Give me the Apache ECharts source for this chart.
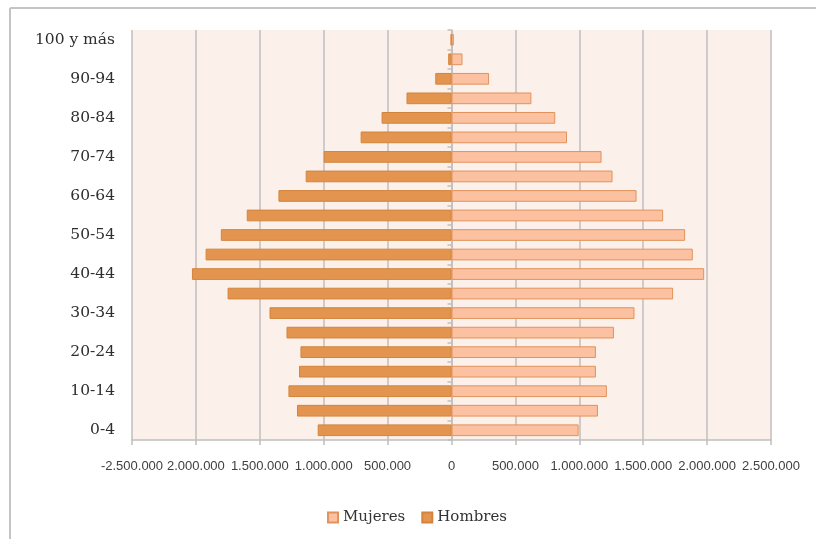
<!DOCTYPE html>
<html>
<head>
<meta charset="utf-8">
<script src="https://cdn.jsdelivr.net/npm/echarts@6/dist/echarts.min.js"></script>
<style>html,body{margin:0;padding:0;background:#fff;}#c{width:816px;height:539px;}</style>
</head>
<body>
<div id="c"></div>
<script>
const categories = ['0-4','5-9','10-14','15-19','20-24','25-29','30-34','35-39','40-44','45-49','50-54','55-59','60-64','65-69','70-74','75-79','80-84','85-89','90-94','95-99','100 y más'];
const mujeres = [995000,1146000,1216000,1130000,1130000,1271000,1432000,1734000,1977000,1888000,1828000,1656000,1448000,1260000,1174000,904000,812000,625000,294000,86000,18000];
const hombres = [1047000,1209000,1276000,1193000,1182000,1291000,1424000,1752000,2031000,1924000,1805000,1602000,1354000,1141000,1000000,711000,547000,352000,127000,26000,6000];
const tickValues = [-2500000,-2000000,-1500000,-1000000,-500000,0,500000,1000000,1500000,2000000,2500000];
const tickLabels = ['-2.500.000','2.000.000','1.500.000','1.000.000','500.000','0','500.000','1.000.000','1.500.000','2.000.000','2.500.000'];

const chart = echarts.init(document.getElementById('c'), null, {renderer: 'canvas'});
const grey = '#BFBFBF';
chart.setOption({
  animation: false,
  graphic: [
    {type: 'line', shape: {x1: 10, y1: 8, x2: 816, y2: 8}, style: {stroke: '#C4C4C4', lineWidth: 2}},
    {type: 'line', shape: {x1: 10, y1: 8, x2: 10, y2: 539}, style: {stroke: '#C4C4C4', lineWidth: 2}}
  ],
  grid: {left: 132, right: 45, top: 30, bottom: 99, show: true, backgroundColor: '#FCF0EB', borderWidth: 0},
  legend: {
    data: ['Mujeres', 'Hombres'],
    left: 322, top: 505,
    icon: 'rect', itemWidth: 10, itemHeight: 10, itemGap: 16,
    textStyle: {fontFamily: 'DejaVu Serif', fontSize: 15, color: '#333333'}
  },
  xAxis: {
    type: 'value', min: -2500000, max: 2500000, interval: 500000,
    axisLine: {show: true, lineStyle: {color: grey, width: 1.5}},
    axisTick: {show: true, length: 5, lineStyle: {color: grey, width: 1.5}},
    splitLine: {show: true, lineStyle: {color: grey, width: 1.5}},
    axisLabel: {
      margin: 20, color: '#404040', fontFamily: 'Liberation Sans', fontSize: 13,
      showMinLabel: true, showMaxLabel: true, hideOverlap: false,
      formatter: function (v) { const i = tickValues.indexOf(v); return i >= 0 ? tickLabels[i] : ''; }
    }
  },
  yAxis: [
    {
      type: 'category', data: categories,
      axisLine: {show: true, onZero: true, lineStyle: {color: grey, width: 1.5}},
      axisTick: {show: true, length: 4, lineStyle: {color: grey, width: 1.5}},
      axisLabel: {show: false}
    },
    {
      type: 'category', data: categories, position: 'left',
      axisLine: {show: false, onZero: false}, axisTick: {show: false},
      axisLabel: {interval: 1, margin: 17, color: '#2e2e2e', fontFamily: 'DejaVu Serif', fontSize: 15.5}
    }
  ],
  series: [
    {
      name: 'Mujeres', type: 'bar', stack: 'p', yAxisIndex: 0,
      barCategoryGap: '40%',
      data: mujeres,
      itemStyle: {color: '#FBC1A0', borderColor: '#E0935C', borderWidth: 1}
    },
    {
      name: 'Hombres', type: 'bar', stack: 'p', yAxisIndex: 0,
      barCategoryGap: '40%',
      data: hombres.map(v => -v),
      itemStyle: {color: '#E3954F', borderColor: '#D3843C', borderWidth: 1}
    }
  ]
});
</script>
</body>
</html>
